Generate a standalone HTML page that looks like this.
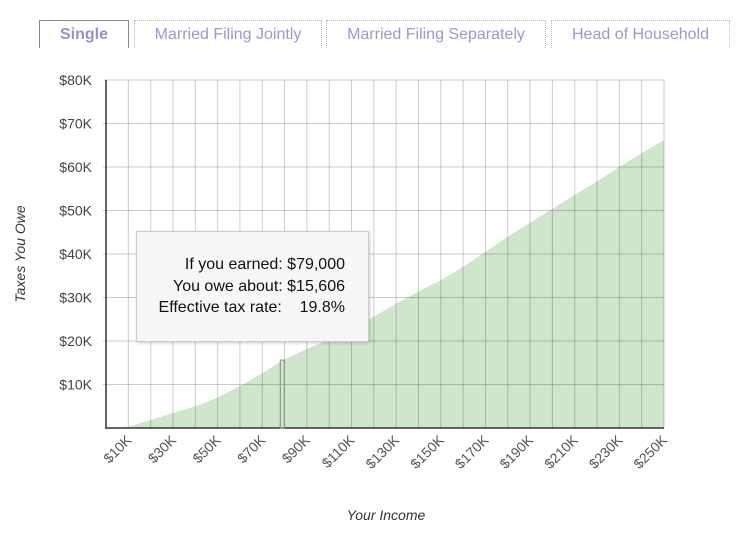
<!DOCTYPE html>
<html><head><meta charset="utf-8"><style>
body{margin:0;width:736px;height:537px;background:#fff;font-family:"Liberation Sans",sans-serif;overflow:hidden;position:relative}
.tab{position:absolute;top:20px;height:28px;box-sizing:border-box;border:1px dotted #bbb;border-bottom:none;color:#9a9acc;font-size:16px;text-align:center;line-height:28px}
.tab.active{border:1px solid #888;border-bottom:none;font-weight:bold;color:#9393c6}
</style></head><body>
<div class="tab active" style="left:39px;width:90px">Single</div>
<div class="tab" style="left:134px;width:188px">Married Filing Jointly</div>
<div class="tab" style="left:326px;width:220px">Married Filing Separately</div>
<div class="tab" style="left:551px;width:179px">Head of Household</div>
<svg id="chart" width="736" height="537" style="position:absolute;left:0;top:0"></svg>
<div style="position:absolute;left:136px;top:231px;width:233px;height:111px;box-sizing:border-box;background:#f7f7f7;border:1px solid #ccc;box-shadow:1px 1px 3px rgba(0,0,0,0.2);font-size:16px;color:#111;text-align:right;padding:22px 23px 0 0;line-height:21.5px">
<div>If you earned: $79,000</div>
<div>You owe about: $15,606</div>
<div>Effective tax rate:&nbsp;&nbsp;&nbsp; 19.8%</div>
</div>
<script>
const incomes=[0,10,20,30,40,50,60,70,80,90,100,110,120,130,140,150,160,170,180,190,200,210,220,230,240,250];
const taxes=[0,0.3,1.8,3.5,4.9,7.0,9.6,12.6,15.8,18.2,20.4,22.8,25.6,28.6,31.4,34,37,40.5,44.0,47.2,50.4,53.6,56.7,60,63.2,66.2];
const yTicks=[10,20,30,40,50,60,70,80];
const xTickLabels=[10,30,50,70,90,110,130,150,170,190,210,230,250];
const markerIncome=79, markerTax=15.606;
const NS="http://www.w3.org/2000/svg";
const svg=document.getElementById('chart');
const X0=106,X1=664,Y0=428,Y1=80;
const xs=v=>X0+(v/250)*(X1-X0);
const ys=v=>Y0-(v/80)*(Y0-Y1);
function mk(t,a){const e=document.createElementNS(NS,t);for(const k in a)e.setAttribute(k,a[k]);svg.appendChild(e);return e;}
let d='M'+xs(incomes[0])+','+Y0;
incomes.forEach((v,i)=>{d+=' L'+xs(v)+','+ys(taxes[i]);});
d+=' L'+xs(incomes[incomes.length-1])+','+Y0+' Z';
const area=mk('path',{d:d,fill:'#cfe5cc'});


for(let v=10;v<=250;v+=10){const l=mk('line',{x1:xs(v),x2:xs(v),y1:Y1,y2:Y0,stroke:'rgba(0,0,0,0.2)','stroke-width':1});

}
yTicks.forEach(v=>{const l=mk('line',{x1:X0-3,x2:X1,y1:ys(v),y2:ys(v),stroke:'rgba(0,0,0,0.2)','stroke-width':1});


const t=mk('text',{x:92,y:ys(v)+5,'text-anchor':'end','font-size':14,fill:'#444'});t.textContent='$'+v+'K';

});
const ax=mk('line',{x1:X0,x2:X0,y1:Y1,y2:Y0+1,stroke:'#333','stroke-width':1.5});


const bx=mk('line',{x1:X0,x2:X1,y1:Y0,y2:Y0,stroke:'#333','stroke-width':1.5});


xTickLabels.forEach(v=>{const x=xs(v);const t=mk('text',{x:x+4,y:Y0+13,'text-anchor':'end','font-size':14,fill:'#555',transform:'rotate(-45 '+(x+4)+' '+(Y0+13)+')'});t.textContent='$'+v+'K';

});
const m=mk('rect',{x:xs(markerIncome)-2,y:ys(markerTax),width:4,height:Y0-ys(markerTax),fill:'none',stroke:'#8a9a88','stroke-width':1.2});


const yt=mk('text',{x:25,y:254,'text-anchor':'middle','font-size':14,'font-style':'italic',fill:'#333',transform:'rotate(-90 25 254)'});yt.textContent='Taxes You Owe';


const xt=mk('text',{x:386,y:520,'text-anchor':'middle','font-size':14,'font-style':'italic',fill:'#333'});xt.textContent='Your Income';


</script>
</body></html>
